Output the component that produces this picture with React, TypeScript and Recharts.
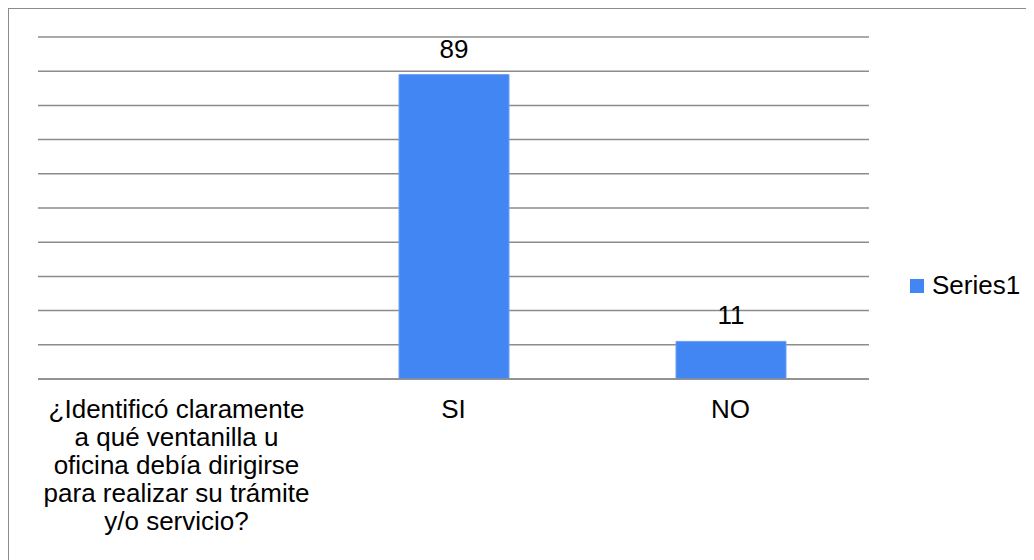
import React from "react";
import { BarChart, Bar, XAxis, YAxis, CartesianGrid, LabelList, Legend } from "recharts";

// Survey question and the two answer categories
const categories = [
  "¿Identificó claramente\na qué ventanilla u\noficina debía dirigirse\npara realizar su trámite\ny/o servicio?",
  "SI",
  "NO",
];
const series1 = [null, 89, 11];
const yTicks = [0, 10, 20, 30, 40, 50, 60, 70, 80, 90, 100];
const seriesName = "Series1";

const data = categories.map((c, i) => ({ category: c, value: series1[i] }));

const FONT = "'Liberation Sans', Arial, sans-serif";
const BLUE = "#4286f4";
const FS = 26;

const CategoryTick = (props: any) => {
  const { x, y, payload } = props;
  const lines = String(payload.value).split("\n");
  return (
    <text x={x} y={y} textAnchor="middle" fontFamily={FONT} fontSize={FS} fill="#000">
      {lines.map((ln, i) => (
        <tspan key={i} x={x} dy={i === 0 ? 39 : 28}>
          {ln}
        </tspan>
      ))}
    </text>
  );
};

const LegendContent = () => (
  <div style={{ display: "flex", alignItems: "center", fontFamily: FONT, fontSize: FS, color: "#000" }}>
    <span style={{ display: "inline-block", width: 14, height: 14, background: BLUE, marginRight: 8 }} />
    <span>{seriesName}</span>
  </div>
);

export default function App() {
  return (
    <div style={{ width: 1026, height: 552, overflow: "hidden" }}>
      <div style={{ width: 1040, height: 560, border: "1px solid #8c8c8c", background: "#fff" }}>
        <BarChart
          width={1040}
          height={560}
          data={data}
          margin={{ top: 28, right: 180, left: 29, bottom: 130 }}
        >
          <CartesianGrid horizontal={true} vertical={false} stroke="#8c8c8c" strokeWidth={1.5} />
          <YAxis hide domain={[0, 100]} ticks={yTicks} />
          <XAxis
            dataKey="category"
            height={60}
            interval={0}
            tickLine={false}
            tickSize={0}
            tickMargin={0}
            axisLine={{ stroke: "#8c8c8c", strokeWidth: 1.5 }}
            tick={<CategoryTick />}
          />
          <Legend
            layout="horizontal"
            verticalAlign="middle"
            align="center"
            content={<LegendContent />}
            wrapperStyle={{ position: "absolute", left: 901, top: 261, width: 130 }}
          />
          <Bar dataKey="value" name={seriesName} fill={BLUE} stroke="#6d9ff5" strokeWidth={1} barSize={110} isAnimationActive={false}>
            <LabelList
              dataKey="value"
              position="top"
              offset={17}
              fill="#000"
              fontFamily={FONT}
              fontSize={FS}
              formatter={(v: any) => (v == null ? "" : v)}
            />
          </Bar>
        </BarChart>
      </div>
    </div>
  );
}
